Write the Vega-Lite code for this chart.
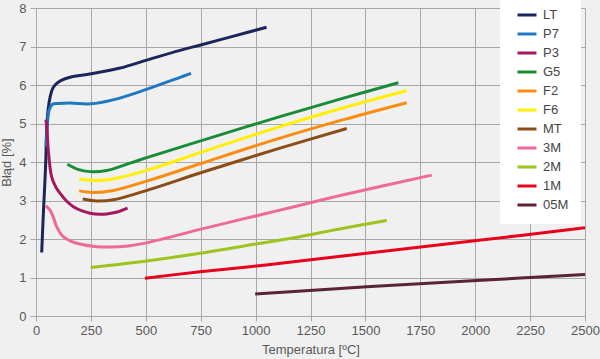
{
  "$schema": "https://vega.github.io/schema/vega-lite/v6.json",
  "autosize": {"type": "none"},
  "width": 549,
  "height": 308,
  "padding": {"left": 36, "top": 8, "right": 15, "bottom": 43},
  "background": "#f0f0f0",
  "config": {
    "view": {"stroke": null},
    "font": "Liberation Sans",
    "axis": {
      "gridColor": "#a8a8a8",
      "gridWidth": 1,
      "tickColor": "#a8a8a8",
      "domain": false,
      "labelFont": "Liberation Sans",
      "labelFontSize": 13,
      "labelColor": "#595959",
      "titleFont": "Liberation Sans",
      "titleFontSize": 13,
      "titleFontWeight": "normal",
      "titleColor": "#595959"
    }
  },
  "data": {
    "values": [
      {"s": "LT", "t": 26, "v": 1.65}, {"s": "LT", "t": 33, "v": 2.6}, {"s": "LT", "t": 41, "v": 3.55}, {"s": "LT", "t": 45, "v": 4.1}, {"s": "LT", "t": 49, "v": 4.9}, {"s": "LT", "t": 56, "v": 5.4}, {"s": "LT", "t": 64, "v": 5.68}, {"s": "LT", "t": 75, "v": 5.9}, {"s": "LT", "t": 90, "v": 6.02}, {"s": "LT", "t": 115, "v": 6.12}, {"s": "LT", "t": 155, "v": 6.2}, {"s": "LT", "t": 250, "v": 6.29}, {"s": "LT", "t": 383, "v": 6.44}, {"s": "LT", "t": 500, "v": 6.64}, {"s": "LT", "t": 656, "v": 6.9}, {"s": "LT", "t": 750, "v": 7.04}, {"s": "LT", "t": 900, "v": 7.27}, {"s": "LT", "t": 1050, "v": 7.5},
      {"s": "P7", "t": 46, "v": 4.4}, {"s": "P7", "t": 52, "v": 5.0}, {"s": "P7", "t": 60, "v": 5.35}, {"s": "P7", "t": 75, "v": 5.5}, {"s": "P7", "t": 102, "v": 5.52}, {"s": "P7", "t": 155, "v": 5.53}, {"s": "P7", "t": 250, "v": 5.51}, {"s": "P7", "t": 355, "v": 5.62}, {"s": "P7", "t": 500, "v": 5.88}, {"s": "P7", "t": 656, "v": 6.2}, {"s": "P7", "t": 706, "v": 6.3},
      {"s": "P3", "t": 45, "v": 5.1}, {"s": "P3", "t": 49, "v": 4.95}, {"s": "P3", "t": 56, "v": 4.31}, {"s": "P3", "t": 71, "v": 3.62}, {"s": "P3", "t": 90, "v": 3.35}, {"s": "P3", "t": 109, "v": 3.19}, {"s": "P3", "t": 140, "v": 2.98}, {"s": "P3", "t": 170, "v": 2.84}, {"s": "P3", "t": 210, "v": 2.73}, {"s": "P3", "t": 246, "v": 2.67}, {"s": "P3", "t": 291, "v": 2.64}, {"s": "P3", "t": 322, "v": 2.65}, {"s": "P3", "t": 370, "v": 2.7}, {"s": "P3", "t": 417, "v": 2.8},
      {"s": "G5", "t": 143, "v": 3.94}, {"s": "G5", "t": 190, "v": 3.81}, {"s": "G5", "t": 246, "v": 3.75}, {"s": "G5", "t": 322, "v": 3.78}, {"s": "G5", "t": 428, "v": 3.97}, {"s": "G5", "t": 519, "v": 4.14}, {"s": "G5", "t": 750, "v": 4.55}, {"s": "G5", "t": 1111, "v": 5.18}, {"s": "G5", "t": 1400, "v": 5.66}, {"s": "G5", "t": 1650, "v": 6.06},
      {"s": "F2", "t": 197, "v": 3.25}, {"s": "F2", "t": 261, "v": 3.21}, {"s": "F2", "t": 352, "v": 3.26}, {"s": "F2", "t": 519, "v": 3.53}, {"s": "F2", "t": 750, "v": 3.96}, {"s": "F2", "t": 1111, "v": 4.62}, {"s": "F2", "t": 1400, "v": 5.1}, {"s": "F2", "t": 1688, "v": 5.54},
      {"s": "F6", "t": 197, "v": 3.56}, {"s": "F6", "t": 276, "v": 3.52}, {"s": "F6", "t": 367, "v": 3.58}, {"s": "F6", "t": 519, "v": 3.81}, {"s": "F6", "t": 750, "v": 4.25}, {"s": "F6", "t": 1111, "v": 4.92}, {"s": "F6", "t": 1400, "v": 5.41}, {"s": "F6", "t": 1688, "v": 5.85},
      {"s": "MT", "t": 213, "v": 3.04}, {"s": "MT", "t": 276, "v": 2.99}, {"s": "MT", "t": 352, "v": 3.02}, {"s": "MT", "t": 519, "v": 3.29}, {"s": "MT", "t": 750, "v": 3.72}, {"s": "MT", "t": 1111, "v": 4.36}, {"s": "MT", "t": 1415, "v": 4.87},
      {"s": "3M", "t": 45, "v": 2.86}, {"s": "3M", "t": 64, "v": 2.75}, {"s": "3M", "t": 80, "v": 2.55}, {"s": "3M", "t": 94, "v": 2.32}, {"s": "3M", "t": 124, "v": 2.06}, {"s": "3M", "t": 160, "v": 1.94}, {"s": "3M", "t": 200, "v": 1.87}, {"s": "3M", "t": 276, "v": 1.8}, {"s": "3M", "t": 340, "v": 1.79}, {"s": "3M", "t": 420, "v": 1.82}, {"s": "3M", "t": 504, "v": 1.9}, {"s": "3M", "t": 747, "v": 2.25}, {"s": "3M", "t": 1111, "v": 2.75}, {"s": "3M", "t": 1400, "v": 3.15}, {"s": "3M", "t": 1802, "v": 3.66},
      {"s": "2M", "t": 249, "v": 1.26}, {"s": "2M", "t": 504, "v": 1.43}, {"s": "2M", "t": 747, "v": 1.63}, {"s": "2M", "t": 1000, "v": 1.87}, {"s": "2M", "t": 1202, "v": 2.06}, {"s": "2M", "t": 1400, "v": 2.28}, {"s": "2M", "t": 1597, "v": 2.48},
      {"s": "1M", "t": 496, "v": 0.98}, {"s": "1M", "t": 747, "v": 1.15}, {"s": "1M", "t": 974, "v": 1.28}, {"s": "1M", "t": 1202, "v": 1.43}, {"s": "1M", "t": 1506, "v": 1.63}, {"s": "1M", "t": 2007, "v": 1.96}, {"s": "1M", "t": 2500, "v": 2.29},
      {"s": "05M", "t": 998, "v": 0.57}, {"s": "05M", "t": 1506, "v": 0.76}, {"s": "05M", "t": 2007, "v": 0.92}, {"s": "05M", "t": 2500, "v": 1.08}
    ]
  },
  "mark": {"type": "line", "strokeWidth": 3, "interpolate": "catmull-rom"},
  "encoding": {
    "x": {
      "field": "t", "type": "quantitative",
      "scale": {"domain": [0, 2500], "nice": false},
      "axis": {"values": [0, 250, 500, 750, 1000, 1250, 1500, 1750, 2000, 2250, 2500], "format": "d", "title": "Temperatura [ºC]", "tickSize": 5, "labelPadding": 3, "titlePadding": 6, "labelFlush": false}
    },
    "y": {
      "field": "v", "type": "quantitative",
      "scale": {"domain": [0, 8], "nice": false},
      "axis": {"values": [0, 1, 2, 3, 4, 5, 6, 7, 8], "format": "d", "title": "Błąd [%]", "tickSize": 6, "labelPadding": 4, "titlePadding": 5}
    },
    "color": {
      "field": "s", "type": "nominal",
      "scale": {
        "domain": ["LT", "P7", "P3", "G5", "F2", "F6", "MT", "3M", "2M", "1M", "05M"],
        "range": ["#1b2559", "#1f78c1", "#a3185e", "#1a8b37", "#fa8c0e", "#fff000", "#8b4c16", "#ee6a97", "#9bc41c", "#e8001c", "#5c2236"]
      },
      "legend": {
        "title": null,
        "orient": "none",
        "legendX": 464,
        "legendY": -16,
        "fillColor": "#ffffff",
        "padding": 12,
        "symbolOffset": 4,
        "symbolType": "stroke",
        "symbolSize": 361,
        "symbolStrokeWidth": 3,
        "rowPadding": 1,
        "labelFont": "Liberation Sans",
        "labelFontSize": 13,
        "labelColor": "#444444",
        "labelOffset": 5
      }
    }
  }
}
